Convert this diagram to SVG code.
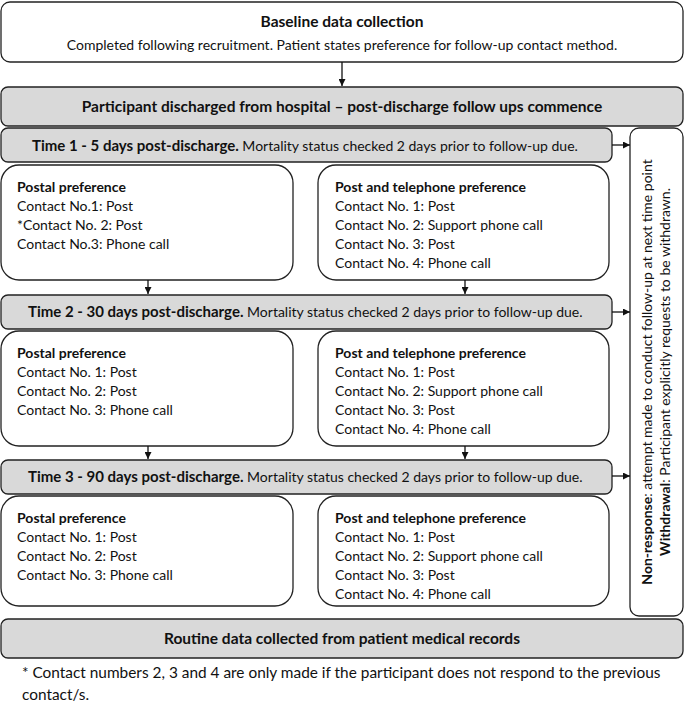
<svg xmlns="http://www.w3.org/2000/svg" width="685" height="705" viewBox="0 0 685 705">
<defs>
<style>
text{font-family:Lato,"Open Sans","Liberation Sans",sans-serif;fill:#111;}
.box{fill:#fff;stroke:#222;stroke-width:1.3;}
.bar{fill:#d9d9d9;stroke:#222;stroke-width:1.3;}
.b{font-weight:bold;}
.t{font-size:14px;}
.h{font-size:15.5px;font-weight:bold;}
.tb{font-weight:bold;font-size:15px;}
.con line{stroke:#111;stroke-width:1.3;}
</style>
<marker id="ah" viewBox="0 0 10 10" refX="10" refY="5" markerWidth="7" markerHeight="7" markerUnits="userSpaceOnUse" orient="auto"><path d="M0,0 L10,5 L0,10 z" fill="#111"/></marker>
</defs>

<g id="baseline">
<rect class="box" x="1" y="2" width="682" height="60" rx="9"/>
<text class="h" x="342" y="27" text-anchor="middle">Baseline data collection</text>
<text class="t" x="342" y="50" text-anchor="middle">Completed following recruitment. Patient states preference for follow-up contact method.</text>
</g>

<g id="discharged">
<rect class="bar" x="1" y="87" width="682" height="39" rx="7"/>
<text class="h" x="342" y="112" text-anchor="middle">Participant discharged from hospital – post-discharge follow ups commence</text>
</g>

<g id="time1">
<rect class="bar" x="1" y="128" width="611" height="34" rx="7"/>
<text class="t" x="32" y="151"><tspan class="tb">Time 1 - 5 days post-discharge.</tspan> Mortality status checked 2 days prior to follow-up due.</text>
</g>
<g id="postal1">
<rect class="box" x="1" y="165" width="292" height="115" rx="18"/>
<text class="t" x="17" y="192"><tspan class="b">Postal preference</tspan><tspan x="17" dy="19">Contact No.1: Post</tspan><tspan x="17" dy="19">*Contact No. 2: Post</tspan><tspan x="17" dy="19">Contact No.3: Phone call</tspan></text>
</g>
<g id="phone1">
<rect class="box" x="318" y="165" width="291" height="115" rx="18"/>
<text class="t" x="335" y="192"><tspan class="b">Post and telephone preference</tspan><tspan x="335" dy="19">Contact No. 1: Post</tspan><tspan x="335" dy="19">Contact No. 2: Support phone call</tspan><tspan x="335" dy="19">Contact No. 3: Post</tspan><tspan x="335" dy="19">Contact No. 4: Phone call</tspan></text>
</g>

<g id="time2">
<rect class="bar" x="1" y="295" width="611" height="34" rx="7"/>
<text class="t" x="28" y="317"><tspan class="tb">Time 2 - 30 days post-discharge.</tspan> Mortality status checked 2 days prior to follow-up due.</text>
</g>
<g id="postal2">
<rect class="box" x="1" y="331" width="292" height="115" rx="18"/>
<text class="t" x="17" y="358"><tspan class="b">Postal preference</tspan><tspan x="17" dy="19">Contact No. 1: Post</tspan><tspan x="17" dy="19">Contact No. 2: Post</tspan><tspan x="17" dy="19">Contact No. 3: Phone call</tspan></text>
</g>
<g id="phone2">
<rect class="box" x="318" y="331" width="291" height="115" rx="18"/>
<text class="t" x="335" y="358"><tspan class="b">Post and telephone preference</tspan><tspan x="335" dy="19">Contact No. 1: Post</tspan><tspan x="335" dy="19">Contact No. 2: Support phone call</tspan><tspan x="335" dy="19">Contact No. 3: Post</tspan><tspan x="335" dy="19">Contact No. 4: Phone call</tspan></text>
</g>

<g id="time3">
<rect class="bar" x="1" y="460" width="611" height="34" rx="7"/>
<text class="t" x="28" y="482"><tspan class="tb">Time 3 - 90 days post-discharge.</tspan> Mortality status checked 2 days prior to follow-up due.</text>
</g>
<g id="postal3">
<rect class="box" x="1" y="496" width="292" height="110" rx="18"/>
<text class="t" x="17" y="523"><tspan class="b">Postal preference</tspan><tspan x="17" dy="19">Contact No. 1: Post</tspan><tspan x="17" dy="19">Contact No. 2: Post</tspan><tspan x="17" dy="19">Contact No. 3: Phone call</tspan></text>
</g>
<g id="phone3">
<rect class="box" x="318" y="496" width="291" height="110" rx="18"/>
<text class="t" x="335" y="523"><tspan class="b">Post and telephone preference</tspan><tspan x="335" dy="19">Contact No. 1: Post</tspan><tspan x="335" dy="19">Contact No. 2: Support phone call</tspan><tspan x="335" dy="19">Contact No. 3: Post</tspan><tspan x="335" dy="19">Contact No. 4: Phone call</tspan></text>
</g>

<g id="nonresponse">
<rect class="box" x="630" y="128" width="53" height="488" rx="9"/>
<text class="t" transform="translate(652,372) rotate(-90)" text-anchor="middle"><tspan class="b">Non-response</tspan>: attempt made to conduct  follow-up at next time point</text>
<text class="t" transform="translate(670,372) rotate(-90)" text-anchor="middle"><tspan class="b">Withdrawal</tspan>: Participant  explicitly requests to be withdrawn.</text>
</g>

<g id="routine">
<rect class="bar" x="1" y="619" width="682" height="39" rx="7"/>
<text class="h" x="342" y="644" text-anchor="middle">Routine data collected from patient medical records</text>
</g>

<g id="footnote">
<text x="22" y="678" font-size="15.4">* Contact numbers 2, 3 and 4 are only made if the participant does not respond to the previous</text>
<text x="22" y="700" font-size="15.4">contact/s.</text>
</g>

<g id="connectors" class="con">
<line x1="342" y1="62" x2="342" y2="86" marker-end="url(#ah)"/>
<line x1="148" y1="280" x2="148" y2="294" marker-end="url(#ah)"/>
<line x1="465" y1="280" x2="465" y2="294" marker-end="url(#ah)"/>
<line x1="148" y1="446" x2="148" y2="459" marker-end="url(#ah)"/>
<line x1="465" y1="446" x2="465" y2="459" marker-end="url(#ah)"/>
<line x1="612" y1="145" x2="630" y2="145" marker-end="url(#ah)"/>
<line x1="612" y1="312" x2="630" y2="312" marker-end="url(#ah)"/>
<line x1="612" y1="476" x2="630" y2="476" marker-end="url(#ah)"/>
</g>
</svg>
